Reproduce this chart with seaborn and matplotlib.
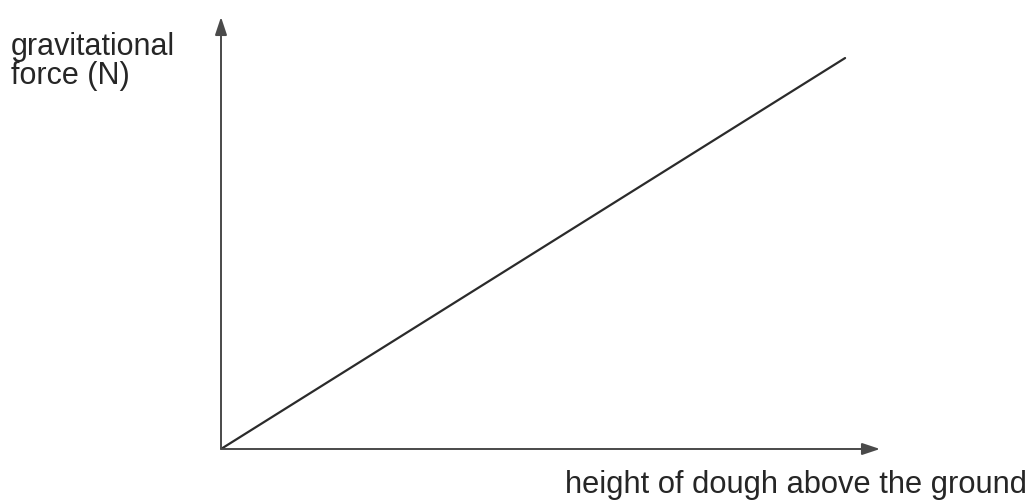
import matplotlib
matplotlib.use("Agg")
import matplotlib.pyplot as plt
import seaborn as sns
import pandas as pd

# Gravitational force against height of the dough (arbitrary units)
height = [0.0, 9.47]
force = [0.0, 9.05]

y_label = "gravitational\nforce (N)"
x_label = "height of dough above the ground"

sns.set_theme(style="white")
plt.rcParams["font.family"] = ["Liberation Sans", "DejaVu Sans"]

W, H = 1030, 501
fig = plt.figure(figsize=(W / 100, H / 100), dpi=100)
fig.patch.set_facecolor("white")

# axes box: origin at (222, 449) px, arrow tips at x=880 and y=17
x0, y0, x1, y1 = 221, 449, 880, 17
ax = fig.add_axes([x0 / W, 1 - y0 / H, (x1 - x0) / W, (y0 - y1) / H])
ax.set_xlim(0, 10)
ax.set_ylim(0, 10)

df = pd.DataFrame({"height": height, "force": force})
sns.lineplot(data=df, x="height", y="force", ax=ax, color="#2b2b2b", lw=1.6)

for s in ax.spines.values():
    s.set_visible(False)
ax.set_xticks([])
ax.set_yticks([])
ax.set_xlabel("")
ax.set_ylabel("")
ax.patch.set_alpha(0)

axis_col = "#4a4a4a"
arrow = dict(arrowstyle="-|>,head_length=0.9,head_width=0.3", color=axis_col,
             lw=1.4, shrinkA=0, shrinkB=0)
ax.annotate("", xy=(1, 0), xytext=(0, 0), xycoords="axes fraction",
            arrowprops=arrow, annotation_clip=False)
ax.annotate("", xy=(0, 1), xytext=(0, 0), xycoords="axes fraction",
            arrowprops=arrow, annotation_clip=False)

fig.text(11 / W, 1 - 32 / H, y_label, ha="left", va="top",
         fontsize=22, color="#262626", linespacing=0.95)
fig.text(565 / W, 1 - 500 / H, x_label, ha="left", va="bottom",
         fontsize=22.2, color="#262626")

fig.savefig("out.png", dpi=100, facecolor="white")
